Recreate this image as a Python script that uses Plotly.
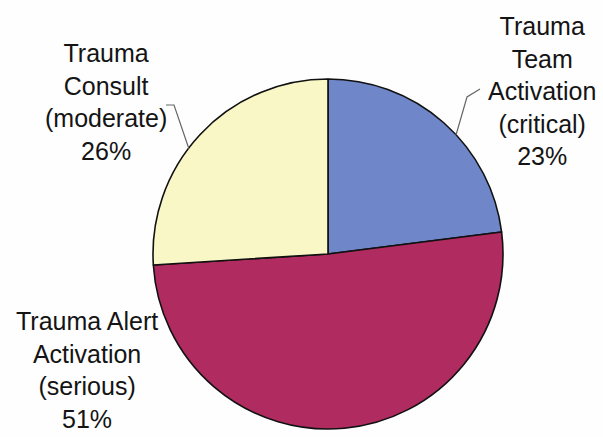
import plotly.graph_objects as go

categories = ["Trauma Team Activation (critical)", "Trauma Alert Activation (serious)", "Trauma Consult (moderate)"]
values = [23, 51, 26]
label_lines = [
    ["Trauma", "Team", "Activation", "(critical)"],
    ["Trauma Alert", "Activation", "(serious)"],
    ["Trauma", "Consult", "(moderate)"],
]
colors = ["#6F86C8", "#B02B60", "#FAF7C6"]

W, H = 603, 437
cx, cy, r = 328, 254, 175

def px(x):
    return x / W

def py(y):
    return 1 - y / H

fig = go.Figure()
fig.add_trace(go.Pie(
    labels=categories,
    values=values,
    sort=False,
    direction="clockwise",
    rotation=0,
    textinfo="none",
    hoverinfo="label+percent",
    marker=dict(colors=colors, line=dict(color="#111111", width=1.6)),
    domain=dict(x=[px(cx - r), px(cx + r)], y=[py(cy + r), py(cy - r)]),
    showlegend=False,
))

label_pos = [(542, 91), (87, 370), (106, 102)]
font = dict(family="Liberation Sans, Arial, sans-serif", size=25, color="#141414")
for lines, v, (x, y) in zip(label_lines, values, label_pos):
    fig.add_annotation(
        x=px(x), y=py(y), xref="paper", yref="paper",
        text="<br>".join(lines + [f"{v}%"]),
        showarrow=False, font=font, align="center",
        xanchor="center", yanchor="middle",
    )

leaders = [
    [(456, 135), (467, 97), (480, 89)],
    [(189, 149), (174, 105), (166, 105)],
]
for pts in leaders:
    path = "M " + " L ".join(f"{px(a)},{py(b)}" for a, b in pts)
    fig.add_shape(type="path", path=path, xref="paper", yref="paper",
                  line=dict(color="#666666", width=1.2))

fig.update_layout(
    width=W, height=H,
    margin=dict(l=0, r=0, t=0, b=0),
    paper_bgcolor="#FEFEFE",
    plot_bgcolor="#FEFEFE",
)
fig.write_html(
    "out.html",
    config={"displayModeBar": False},
    post_script="document.body.style.margin='0';document.body.style.overflow='hidden';",
)
